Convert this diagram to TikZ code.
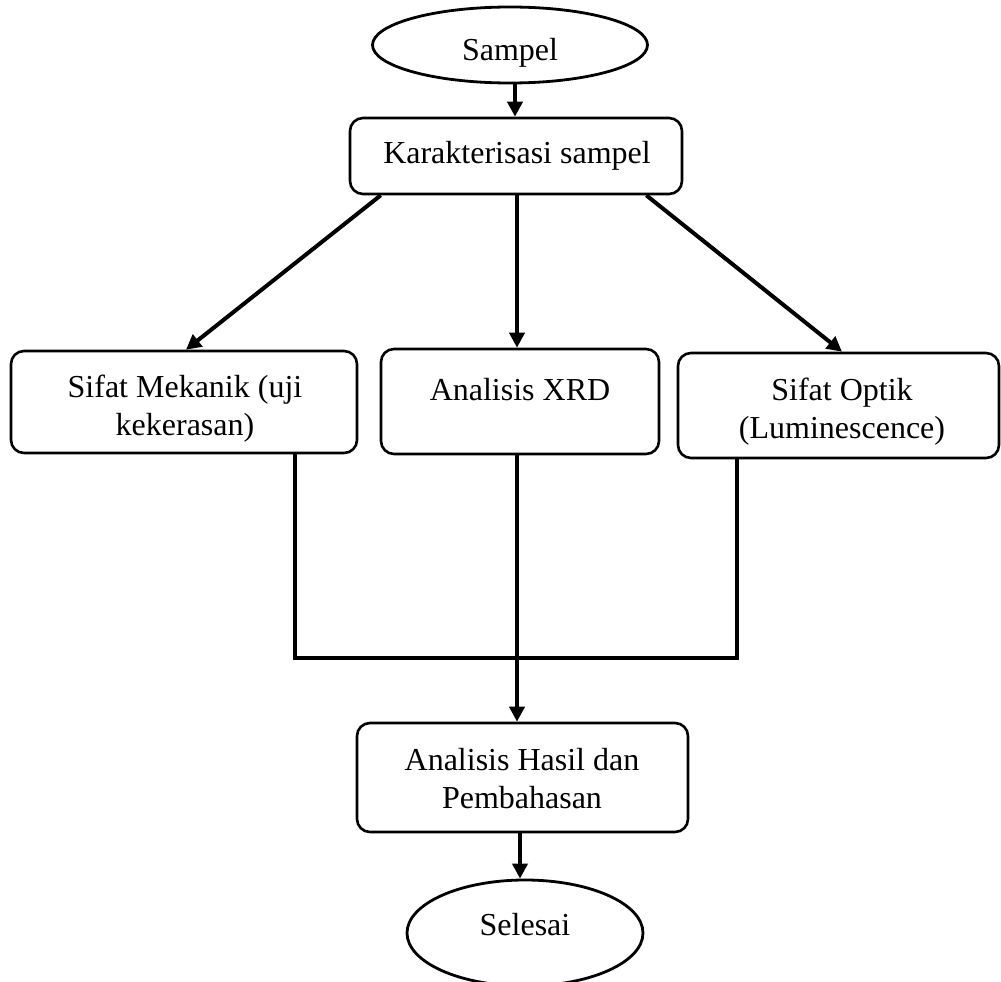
\documentclass[tikz,border=0pt]{standalone}
\usepackage{fontspec}
\setmainfont{Liberation Serif}
\usetikzlibrary{arrows.meta,shapes.geometric,calc}
\begin{document}
\begin{tikzpicture}[x=1pt,y=-1pt,
  box/.style={draw,line width=2.6pt,rounded corners=13pt,inner sep=0pt},
  oval/.style={draw,ellipse,line width=2.8pt,inner sep=0pt},
  txt/.style={anchor=base,align=center,inner sep=0pt,font=\fontsize{32}{38}\selectfont},
  conn/.style={line width=4pt},
  arr/.style={conn,-{Triangle[length=15pt,width=15pt]}}]
\useasboundingbox (0,0) rectangle (1001,982);
% shapes
\node[oval,minimum width=275pt,minimum height=76pt] (sampel) at (510,45) {};
\node[box,minimum width=332pt,minimum height=76pt] (kar) at (516,156) {};
\node[box,minimum width=346pt,minimum height=102pt] (mek) at (184,402) {};
\node[box,minimum width=278pt,minimum height=105pt] (xrd) at (520,401.5) {};
\node[box,minimum width=321pt,minimum height=105pt] (opt) at (838.5,405.5) {};
\node[box,minimum width=331pt,minimum height=109pt] (hasil) at (522.5,777.5) {};
\node[oval,minimum width=236pt,minimum height=106pt] (selesai) at (525,933) {};
% texts (base anchor = baseline of the last line)
\node[txt] (sampelt) at (510,60) {Sampel};
\node[txt] (kart) at (517,163) {Karakterisasi sampel};
\node[txt] (mekt) at (185,435) {Sifat Mekanik (uji\\kekerasan)};
\node[txt] (xrdt) at (520,400) {Analisis XRD};
\node[txt] (optt) at (842,438) {Sifat Optik\\(Luminescence)};
\node[txt] (hasilt) at (522,808) {Analisis Hasil dan\\Pembahasan};
\node[txt] (selesait) at (525,935) {Selesai};
% connectors
\coordinate (j) at (517,658);
\draw[arr] (sampel.south -| 515,0) -- (kar.north -| 515,0);
\draw[arr] ($(kar.south west)+(32,0)$) -- (mek.north -| 186,0);
\draw[arr] (kar.south -| 517,0) -- (xrd.north -| 517,0);
\draw[arr] ($(kar.south east)+(-37,0)$) -- (opt.north -| 842,0);
\draw[conn] ($(mek.south east)+(-63,0)$) |- (j) -| ($(opt.south west)+(60,0)$);
\draw[arr] (xrd.south -| 517,0) -- (hasil.north -| 517,0);
\draw[arr] (hasil.south -| 520,0) -- (selesai.north -| 520,0);
\end{tikzpicture}
\end{document}
